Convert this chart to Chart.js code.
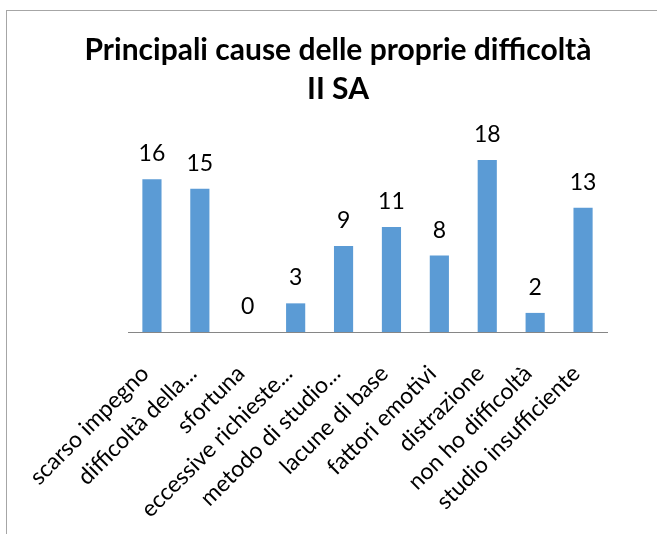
<!DOCTYPE html>
<html>
<head>
<meta charset="utf-8">
<script src="https://cdn.jsdelivr.net/npm/chart.js@4"></script>
<style>
  html, body { margin: 0; padding: 0; background: #fff; }
  #wrap { position: relative; width: 657px; height: 534px; }
  #frame { position: absolute; left: 6px; top: 10px; right: -2px; bottom: -2px;
           border-left: 1px solid #a6a6a6; border-top: 1px solid #a6a6a6; }
  canvas { position: absolute; left: 0; top: 0; }
</style>
</head>
<body>
<div id="wrap">
  <div id="frame"></div>
  <canvas id="chart" width="657" height="534"></canvas>
</div>
<script>
const categories = ['scarso impegno', 'difficoltà della...', 'sfortuna', 'eccessive richieste...',
  'metodo di studio...', 'lacune di base', 'fattori emotivi', 'distrazione',
  'non ho difficoltà', 'studio insufficiente'];
const counts = [16, 15, 0, 3, 9, 11, 8, 18, 2, 13];
const titleLines = ['Principali cause delle proprie difficoltà', 'II SA'];

const fontFamily = 'Lato, "Open Sans", sans-serif';

// draws the value above each bar
const valueLabels = {
  id: 'valueLabels',
  afterDatasetsDraw(chart) {
    const c = chart.ctx;
    const meta = chart.getDatasetMeta(0);
    c.save();
    c.font = '23px ' + fontFamily;
    c.fillStyle = '#000';
    c.textAlign = 'center';
    c.textBaseline = 'alphabetic';
    meta.data.forEach((bar, i) => {
      c.fillText(String(counts[i]), bar.x, bar.y - 18);
    });
    c.restore();
  }
};

const ctx = document.getElementById('chart').getContext('2d');
new Chart(ctx, {
  type: 'bar',
  data: {
    labels: categories,
    datasets: [{
      data: counts,
      backgroundColor: '#5b9bd5',
      borderWidth: 0,
      categoryPercentage: 1,
      barPercentage: 0.4
    }]
  },
  options: {
    responsive: false,
    animation: false,
    layout: { padding: { left: 69, right: 50, top: 0, bottom: 0 } },
    plugins: {
      legend: { display: false },
      tooltip: { enabled: false },
      title: {
        display: true,
        text: titleLines,
        color: '#000',
        font: { family: fontFamily, size: 30, weight: 'bold', lineHeight: 1.3 },
        padding: { top: 31, bottom: 32 }
      }
    },
    scales: {
      x: {
        grid: { display: false, drawTicks: false },
        border: { color: '#868686', width: 1 },
        ticks: {
          color: '#000',
          font: { family: fontFamily, size: 23 },
          minRotation: 45,
          maxRotation: 45,
          padding: 28,
          labelOffset: -7,
          autoSkip: false
        },
        afterFit(scale) { scale.height = 202; }
      },
      y: {
        min: 0,
        max: 20,
        grid: { display: false, drawTicks: false },
        border: { display: false },
        ticks: { display: false },
        afterFit(scale) { scale.width = 59; }
      }
    }
  },
  plugins: [valueLabels]
});
</script>
</body>
</html>
